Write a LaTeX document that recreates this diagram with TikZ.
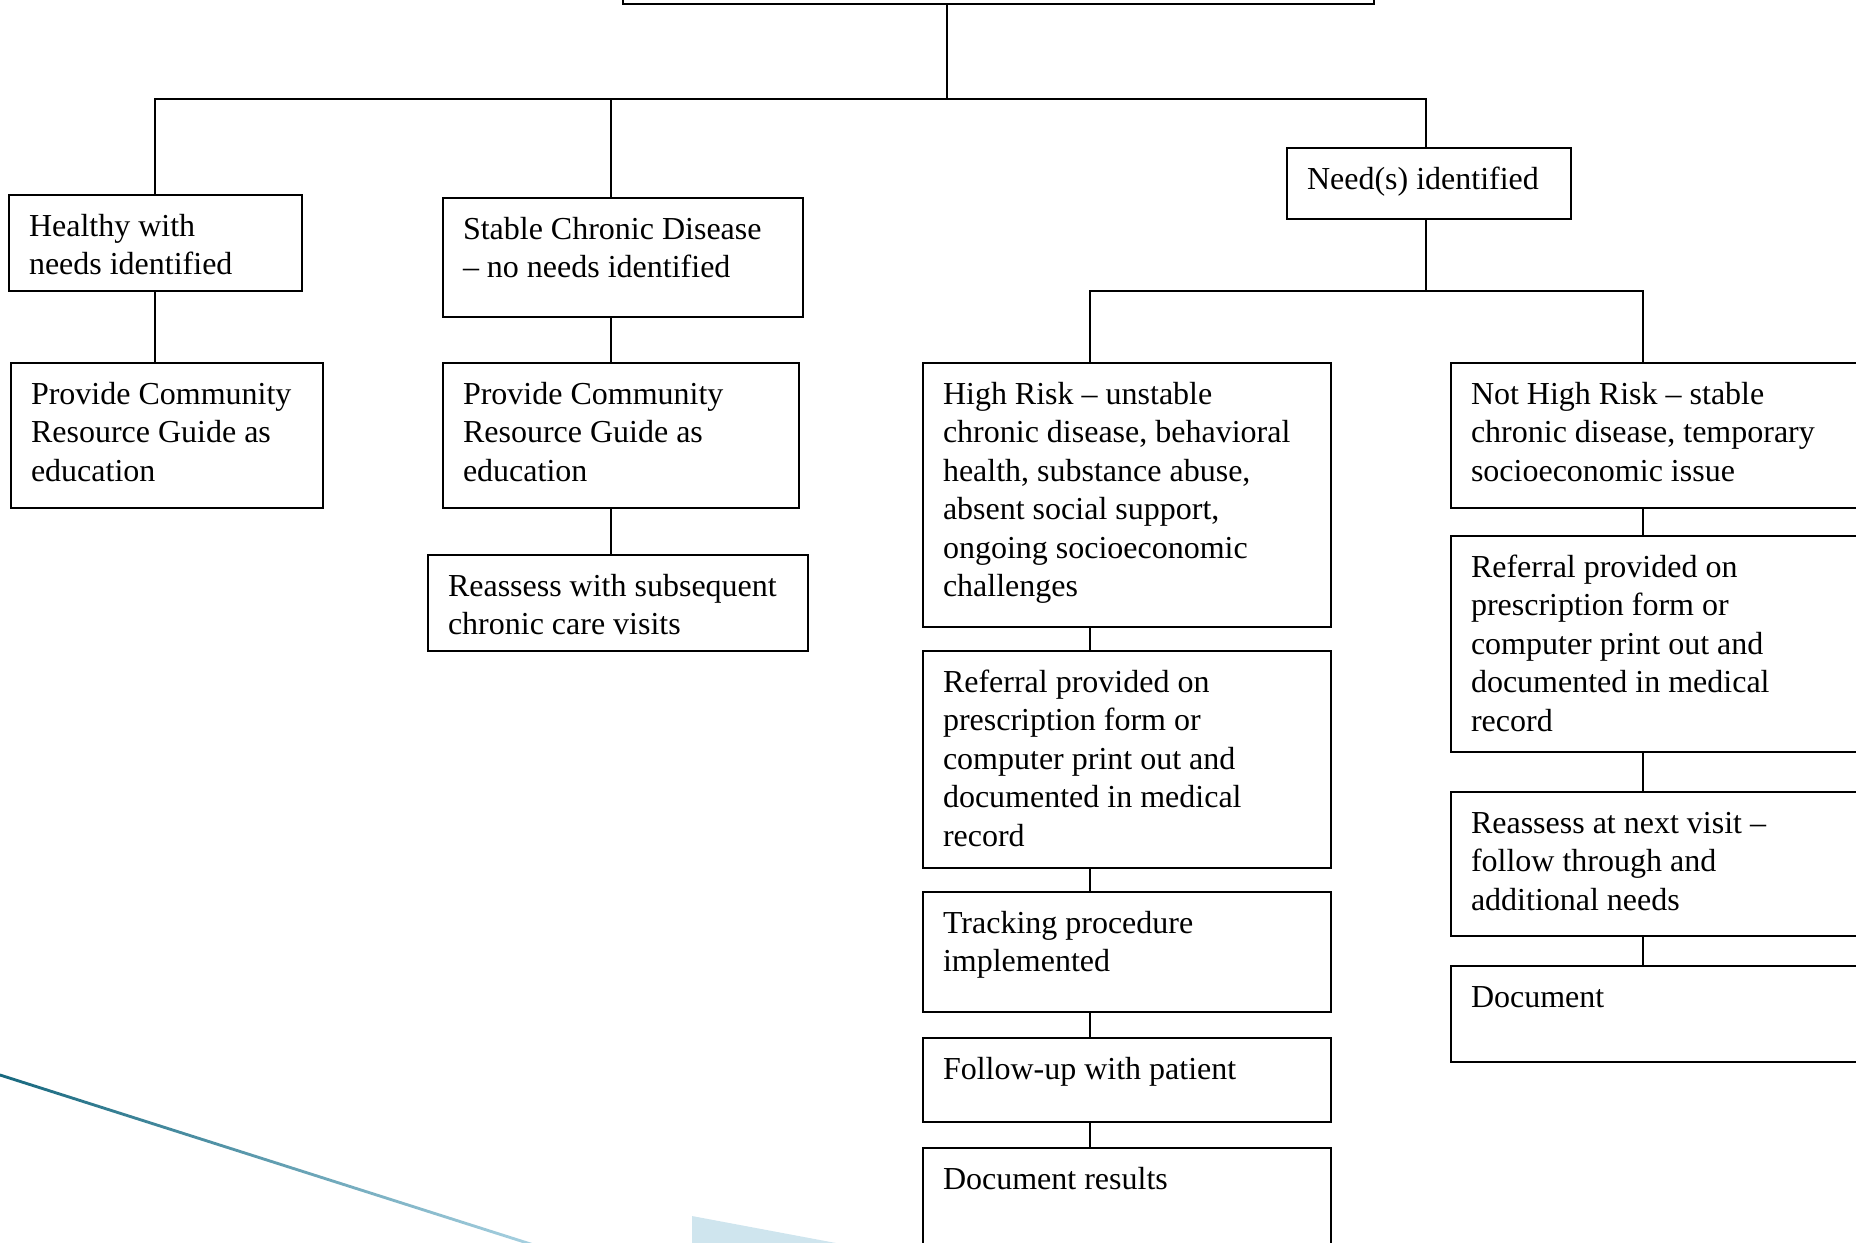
\documentclass[tikz,border=0pt]{standalone}
\usepackage{fontspec}
\setmainfont{Liberation Serif}
\newdimen\pxu \pxu=0.5pt
\definecolor{tealdark}{HTML}{17687E}
\definecolor{teallight}{HTML}{A9D2E2}
\definecolor{paleblue}{HTML}{CFE5EE}
\tikzset{boxst/.style={draw=black, line width=2\pxu, inner sep=0pt, outer sep=0pt, fill=white},
  conn/.style={draw=black, line width=2\pxu}}
\newcommand\bx[6]{\node[boxst,anchor=north west] (#1) at (#2,#3) {\parbox[t][\dimexpr#5\pxu-#3\pxu\relax][t]{\dimexpr#4\pxu-#2\pxu\relax}{\raggedright\leftskip=20\pxu\relax\rule{0pt}{41.5\pxu}#6}};}
\begin{document}
\begin{tikzpicture}[x=0.5pt,y=-0.5pt]
\useasboundingbox (0,0) rectangle (1856,1242);
\clip (0,0) rectangle (1856,1242);
\fontsize{16}{19.2}\selectfont
% decoration
\shade[left color=tealdark, right color=teallight] (0,1073.5) -- (540,1245.5) -- (540,1248.5) -- (0,1076.5) -- cycle;
\fill[paleblue] (692,1216) -- (900,1255) -- (692,1255) -- cycle;
% boxes
\node[boxst, anchor=south west, minimum width=751*0.5pt, minimum height=80*0.5pt] (top) at (623,4) {};
\bx{healthy}{9}{195}{302}{291}{Healthy with\\needs identified}
\bx{stable}{443}{198}{803}{317}{Stable Chronic Disease\\– no needs identified}
\bx{need}{1287}{148}{1571}{219}{Need(s) identified}
\bx{provA}{11}{363}{323}{508}{Provide Community\\Resource Guide as\\education}
\bx{provB}{443}{363}{799}{508}{Provide Community\\Resource Guide as\\education}
\bx{reassA}{428}{555}{808}{651}{Reassess with subsequent\\chronic care visits}
\bx{high}{923}{363}{1331}{627}{High Risk – unstable\\chronic disease, behavioral\\health, substance abuse,\\absent social support,\\ongoing socioeconomic\\challenges}
\bx{refA}{923}{651}{1331}{868}{Referral provided on\\prescription form or\\computer print out and\\documented in medical\\record}
\bx{track}{923}{892}{1331}{1012}{Tracking procedure\\implemented}
\bx{follow}{923}{1038}{1331}{1122}{Follow-up with patient}
\bx{docres}{923}{1148}{1331}{1300}{Document results}
\bx{nothigh}{1451}{363}{1900}{508}{Not High Risk – stable\\chronic disease, temporary\\socioeconomic issue}
\bx{refB}{1451}{536}{1900}{752}{Referral provided on\\prescription form or\\computer print out and\\documented in medical\\record}
\bx{reassB}{1451}{792}{1900}{936}{Reassess at next visit –\\follow through and\\additional needs}
\bx{doc}{1451}{966}{1900}{1062}{Document}
% junction coordinates
\coordinate (bL) at (155,99);
\coordinate (bS) at (611,99);
\coordinate (bM) at (947,99);
\coordinate (bR) at (1426,99);
\coordinate (cM) at (1426,291);
\coordinate (cL) at (1090,291);
\coordinate (cR) at (1643,291);
% connectors
\draw[conn] (top.south -| bM) -- (bM);
\draw[conn] (healthy.north -| bL) -- (bL) -- (bR) -- (need.north -| bR);
\draw[conn] (bS) -- (stable.north -| bS);
\draw[conn] (healthy.south -| bL) -- (provA.north -| bL);
\draw[conn] (stable.south -| bS) -- (provB.north -| bS);
\draw[conn] (provB.south -| bS) -- (reassA.north -| bS);
\draw[conn] (need.south -| cM) -- (cM);
\draw[conn] (high.north -| cL) -- (cL) -- (cR) -- (nothigh.north -| cR);
\draw[conn] (high.south -| cL) -- (refA.north -| cL);
\draw[conn] (refA.south -| cL) -- (track.north -| cL);
\draw[conn] (track.south -| cL) -- (follow.north -| cL);
\draw[conn] (follow.south -| cL) -- (docres.north -| cL);
\draw[conn] (nothigh.south -| cR) -- (refB.north -| cR);
\draw[conn] (refB.south -| cR) -- (reassB.north -| cR);
\draw[conn] (reassB.south -| cR) -- (doc.north -| cR);
\end{tikzpicture}
\end{document}
